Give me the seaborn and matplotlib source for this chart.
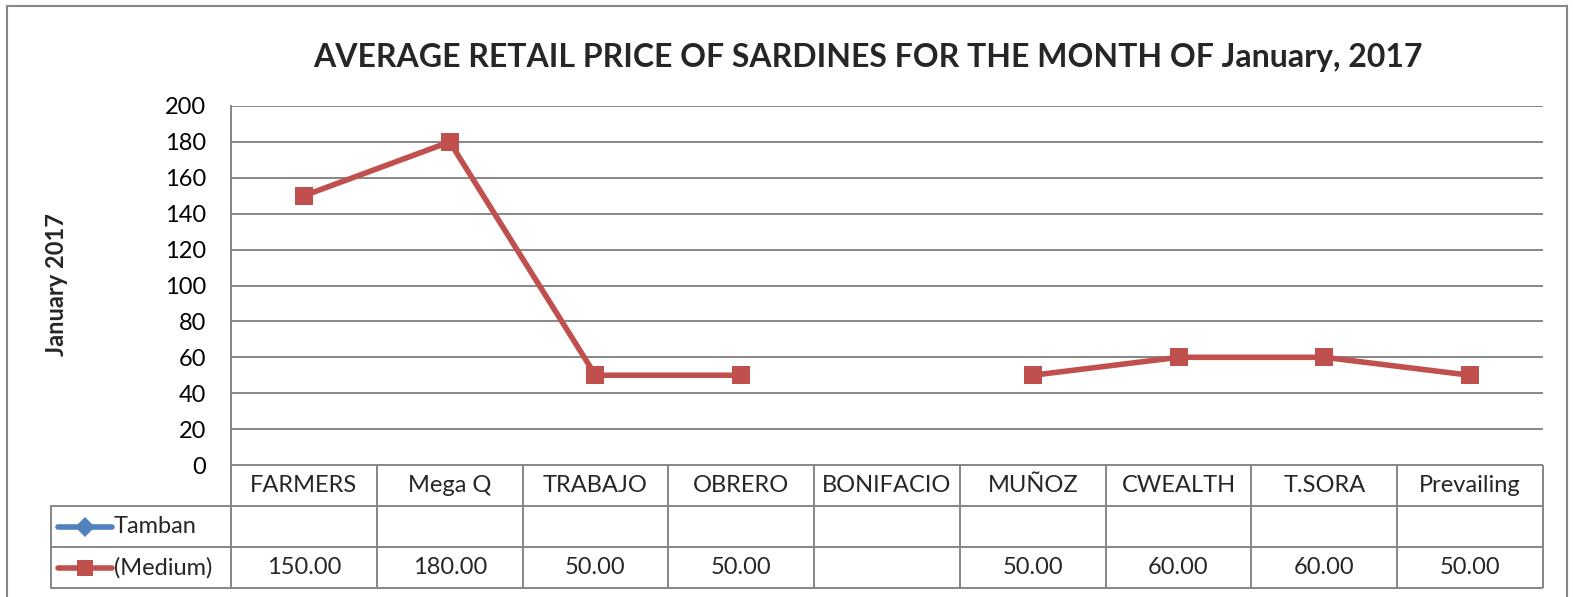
import numpy as np
import pandas as pd
import matplotlib
matplotlib.use('Agg')
import matplotlib.pyplot as plt
import matplotlib.transforms as mtransforms
from matplotlib.lines import Line2D
from matplotlib.patches import Rectangle
import seaborn as sns

# data
stores = ['FARMERS', 'Mega Q', 'TRABAJO', 'OBRERO', 'BONIFACIO',
          'MUÑOZ', 'CWEALTH', 'T.SORA', 'Prevailing']
tamban = [np.nan] * 9
medium = [150, 180, 50, 50, np.nan, 50, 60, 60, 50]
series_names = ['Tamban', '(Medium)']
y_ticks = list(range(0, 201, 20))

title = 'AVERAGE RETAIL PRICE OF SARDINES FOR THE MONTH OF January, 2017'
ylabel = 'January 2017'

red = '#C0504D'
blue = '#4F81BD'
grey = '#868686'
fs = 17

sns.set_theme(style='white')
plt.rcParams['font.family'] = ['Lato', 'DejaVu Sans']

W, H = 1573, 597
fig = plt.figure(figsize=(W / 100, H / 100), dpi=100)


def px(x0, y0, x1, y1):
    # pixel box -> figure fraction rect
    return [x0 / W, 1 - y1 / H, (x1 - x0) / W, (y1 - y0) / H]


ax = fig.add_axes(px(231, 106, 1543, 465))
tab = fig.add_axes(px(231, 465, 1543, 588))

# line chart, split into runs so missing values leave a gap
df = pd.DataFrame({'pos': range(len(stores)), 'store': stores, 'price': medium})
df['seg'] = df['price'].isna().cumsum()
sns.lineplot(data=df.dropna(), x='pos', y='price', units='seg', estimator=None,
             color=red, lw=4, marker='s', markersize=13, markeredgewidth=0,
             ax=ax, legend=False)

ax.set_xlim(-0.5, len(stores) - 0.5)
ax.set_ylim(0, 200)
ax.set_yticks(y_ticks)
ax.set_xticks([])
ax.set_xlabel('')
ax.set_ylabel('')
ax.yaxis.grid(True, color=grey, lw=1.4)
ax.set_axisbelow(True)
for s in ['top', 'right', 'bottom']:
    ax.spines[s].set_visible(False)
ax.spines['left'].set_color(grey)
ax.spines['left'].set_linewidth(1.4)
ax.tick_params(axis='y', length=0, pad=18, labelsize=fs, labelcolor='black')

# data table under the plot
n = len(stores)
tab.set_xlim(-0.5, n - 0.5)
tab.set_ylim(3, 0)
tab.axis('off')
tab.hlines(0, -0.5, n - 0.5, color=grey, lw=1.4)
blend = mtransforms.blended_transform_factory(fig.transFigure, tab.transData)
for r in [1, 2, 3]:
    tab.hlines(r, -0.5, n - 0.5, color=grey, lw=1.4, clip_on=False)
    tab.add_line(Line2D([51 / W, 231 / W], [r, r], transform=blend,
                        color=grey, lw=1.4, clip_on=False))
tab.add_line(Line2D([51 / W, 51 / W], [1, 3], transform=blend,
                    color=grey, lw=1.4, clip_on=False))
for i in range(n + 1):
    tab.vlines(i - 0.5, 0, 3, color=grey, lw=1.4, clip_on=False)

for i, s in enumerate(stores):
    tab.text(i, 0.5, s, ha='center', va='center', fontsize=fs)
for row, vals in [(1.5, tamban), (2.5, medium)]:
    for i, v in enumerate(vals):
        if not np.isnan(v):
            tab.text(i, row, f'{v:.2f}', ha='center', va='center', fontsize=fs)

# legend keys in the table's first column
for row, name, col, mk, ms in [(1.5, series_names[0], blue, 'D', 10),
                               (2.5, series_names[1], red, 's', 12)]:
    tab.add_line(Line2D([58 / W, 112 / W], [row, row], transform=blend,
                        color=col, lw=4, clip_on=False))
    tab.add_line(Line2D([85 / W], [row], transform=blend, color=col,
                        marker=mk, markersize=ms, markeredgewidth=0,
                        clip_on=False))
    tab.text(114 / W, row, name, transform=blend, ha='left', va='center',
             fontsize=fs)

fig.text(868 / W, 1 - 57 / H, title, ha='center', va='center',
         fontsize=23, fontweight='bold')
fig.text(57 / W, 1 - 285 / H, ylabel, ha='center', va='center',
         rotation=90, fontsize=17, fontweight='bold')

# outer chart frame
fig.add_artist(Rectangle((7 / W, -0.1), (1567 - 7) / W, 1.1 - 6 / H,
                         transform=fig.transFigure, fill=False,
                         ec=grey, lw=1.5))

fig.savefig('out.png', dpi=100)
